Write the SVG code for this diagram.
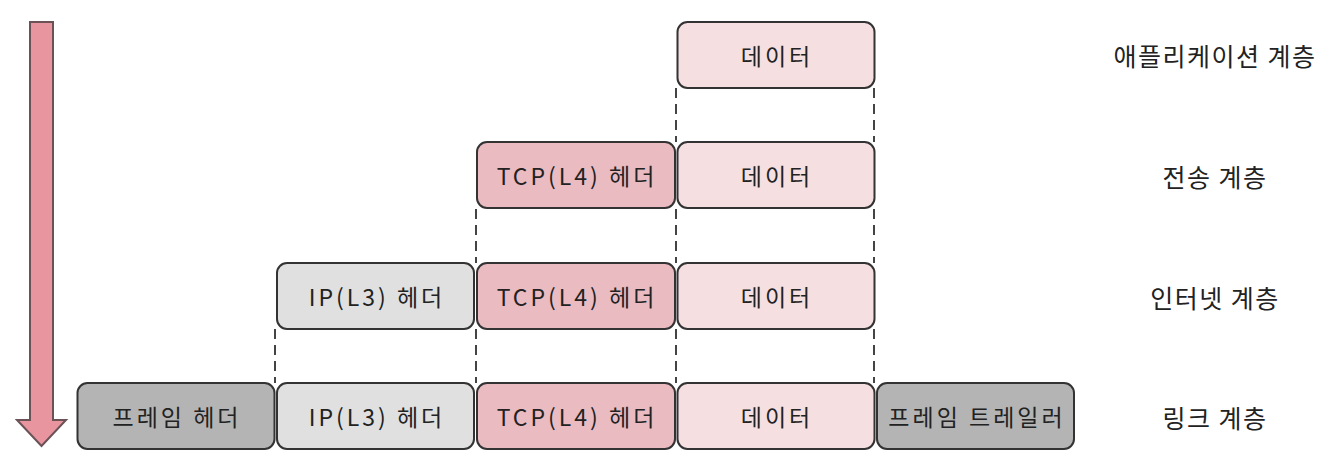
<svg xmlns="http://www.w3.org/2000/svg" width="1342" height="466" viewBox="0 0 1342 466">
<style>
.box{stroke:#333;stroke-width:2}
.data{fill:#f5dfe1}
.tcp{fill:#ebbbc2}
.ip{fill:#e0e0e0}
.frame{fill:#b4b4b4}
.t{font-family:"Noto Sans CJK KR","Noto Sans",sans-serif;font-size:23px;letter-spacing:3px;fill:#222;text-anchor:middle;dominant-baseline:central}
.lbl{font-family:"Noto Sans CJK KR","Noto Sans",sans-serif;font-size:25px;letter-spacing:1.5px;fill:#222;text-anchor:middle;dominant-baseline:central}
.dash{stroke:#444;stroke-width:2;stroke-dasharray:10 6;fill:none}
</style>
<rect width="1342" height="466" fill="#fff"/>
<g id="arrow">
<path d="M30,22 H53 V420 H66 L41.5,446 L17,420 H30 Z" fill="#e8959f" stroke="#6a5257" stroke-width="2" stroke-linejoin="miter"/>
</g>
<g id="connectors">
<line class="dash" x1="676" y1="88" x2="676" y2="142"/>
<line class="dash" x1="874" y1="88" x2="874" y2="142"/>
<line class="dash" x1="476" y1="209" x2="476" y2="263"/>
<line class="dash" x1="676" y1="209" x2="676" y2="263"/>
<line class="dash" x1="874" y1="209" x2="874" y2="263"/>
<line class="dash" x1="275" y1="329" x2="275" y2="383"/>
<line class="dash" x1="476" y1="329" x2="476" y2="383"/>
<line class="dash" x1="676" y1="329" x2="676" y2="383"/>
<line class="dash" x1="874" y1="329" x2="874" y2="383"/>
</g>
<g id="app-data"><rect class="box data" x="677.5" y="22" width="197" height="66" rx="10"/><text class="t" x="777" y="55">데이터</text></g>
<g id="trans-tcp"><rect class="box tcp" x="477" y="142" width="198" height="66" rx="10"/><text class="t" x="577" y="175">TCP(L4) 헤더</text></g>
<g id="trans-data"><rect class="box data" x="677.5" y="142" width="197" height="66" rx="10"/><text class="t" x="777" y="175">데이터</text></g>
<g id="net-ip"><rect class="box ip" x="277" y="263" width="197" height="66" rx="10"/><text class="t" x="377" y="296">IP(L3) 헤더</text></g>
<g id="net-tcp"><rect class="box tcp" x="477" y="263" width="198" height="66" rx="10"/><text class="t" x="577" y="296">TCP(L4) 헤더</text></g>
<g id="net-data"><rect class="box data" x="677.5" y="263" width="197" height="66" rx="10"/><text class="t" x="777" y="296">데이터</text></g>
<g id="link-frame"><rect class="box frame" x="77.5" y="383" width="197" height="66" rx="10"/><text class="t" x="177" y="416">프레임 헤더</text></g>
<g id="link-ip"><rect class="box ip" x="277" y="383" width="197" height="66" rx="10"/><text class="t" x="377" y="416">IP(L3) 헤더</text></g>
<g id="link-tcp"><rect class="box tcp" x="477" y="383" width="198" height="66" rx="10"/><text class="t" x="577" y="416">TCP(L4) 헤더</text></g>
<g id="link-data"><rect class="box data" x="677.5" y="383" width="197" height="66" rx="10"/><text class="t" x="777" y="416">데이터</text></g>
<g id="link-trailer"><rect class="box frame" x="877" y="383" width="197" height="66" rx="10"/><text class="t" x="977" y="416">프레임 트레일러</text></g>
<g id="labels">
<text class="lbl" x="1215" y="55">애플리케이션 계층</text>
<text class="lbl" x="1215" y="176">전송 계층</text>
<text class="lbl" x="1215" y="297">인터넷 계층</text>
<text class="lbl" x="1215" y="417">링크 계층</text>
</g>
</svg>
